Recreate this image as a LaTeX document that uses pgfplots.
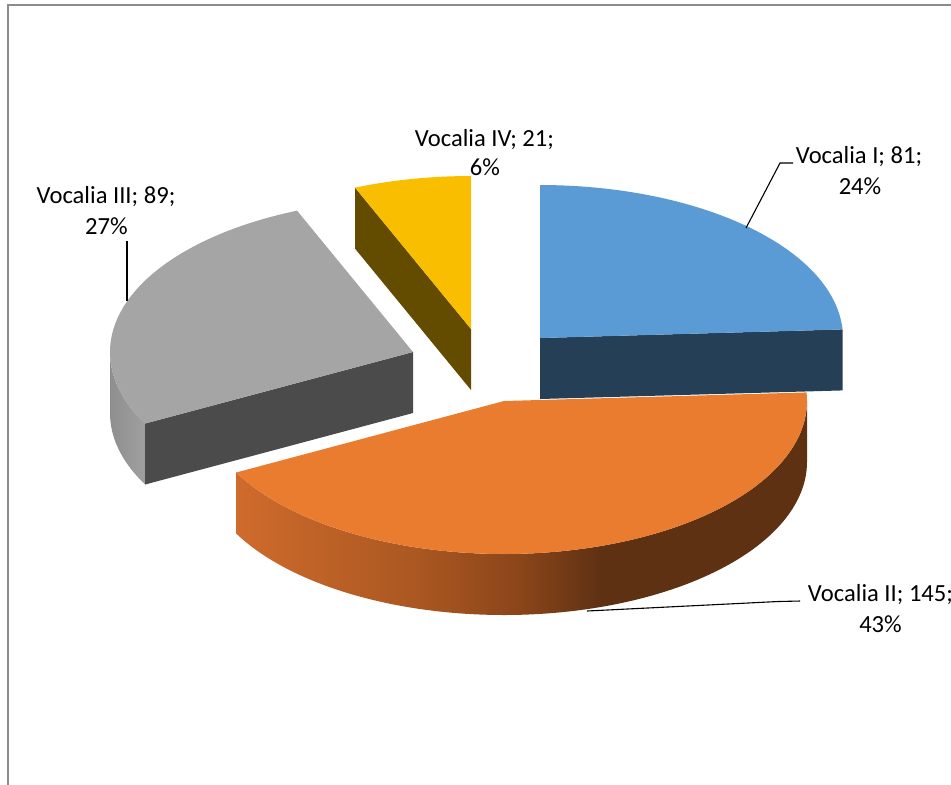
\documentclass[border=0pt]{standalone}
\usepackage{pgfplots}
\pgfplotsset{compat=1.18}
\usepackage{pgfplotstable}
\usepackage{fontspec}
\setmainfont{Carlito}

\definecolor{blueTop}{HTML}{5B9BD5}
\definecolor{blueCut}{HTML}{253F57}
\definecolor{orangeTop}{HTML}{EA7C30}
\definecolor{grayTop}{HTML}{A5A5A5}
\definecolor{grayCut}{HTML}{4B4B4B}
\definecolor{graySideA}{HTML}{A0A0A0}
\definecolor{graySideB}{HTML}{8E8E8E}
\definecolor{yellowTop}{HTML}{FABE00}
\definecolor{yellowCut}{HTML}{634C00}
\definecolor{oA}{HTML}{CF6B2C}
\definecolor{oB}{HTML}{AA5721}
\definecolor{oC}{HTML}{8A4519}
\definecolor{oD}{HTML}{5E3113}
\definecolor{frameGray}{HTML}{8C8C8C}

\pgfdeclarehorizontalshading{orangeside}{100bp}{color(0bp)=(oA); color(25bp)=(oA); color(41bp)=(oB); color(50bp)=(oC); color(57bp)=(oD); color(100bp)=(oD)}

% data
\pgfplotstableread{
name value
I 81
II 145
III 89
IV 21
}\pietable
\pgfplotstablegetelem{0}{value}\of\pietable \let\vA\pgfplotsretval
\pgfplotstablegetelem{1}{value}\of\pietable \let\vB\pgfplotsretval
\pgfplotstablegetelem{2}{value}\of\pietable \let\vC\pgfplotsretval
\pgfplotstablegetelem{3}{value}\of\pietable \let\vD\pgfplotsretval
\pgfmathsetmacro\tot{\vA+\vB+\vC+\vD}
\pgfmathsetmacro\aA{0}
\pgfmathsetmacro\aB{\vA/\tot*360}
\pgfmathsetmacro\aC{(\vA+\vB)/\tot*360}
\pgfmathsetmacro\aD{(\vA+\vB+\vC)/\tot*360}
\def\aE{360}

% geometry (pixel units)
\def\rx{303}
\def\ry{153}
\def\dep{61}

\newcommand\topface[5]{%
  \addplot[fill=#5, draw=none, samples at={0,1,...,101}, variable=\s]
    ({#1+(\s>0.5)*\rx*sin(#3+(#4-#3)*(\s-1)/100)},
     {#2-(\s>0.5)*\ry*cos(#3+(#4-#3)*(\s-1)/100)});}
\newcommand\sideface[5]{%
  \addplot[#5, draw=none, samples at={0,1,...,201}, variable=\s]
    ({#1+\rx*sin(#3+(#4-#3)*fr(\s))},
     {#2-\ry*cos(#3+(#4-#3)*fr(\s))+(\s>100.5)*\dep});}
\newcommand\cutface[4]{%
  \addplot[fill=#4, draw=none, samples at={0,1,2,3}, variable=\s]
    ({#1+(\s>0.5)*(\s<2.5)*\rx*sin(#3)},
     {#2-(\s>0.5)*(\s<2.5)*\ry*cos(#3)+(\s>1.5)*\dep});}

\newcommand\lbl{\fontsize{12.3}{15}\selectfont}

\begin{document}
\begin{tikzpicture}[declare function={fr(\s)=(\s<100.5)*(\s/100)+(\s>100.5)*((201-\s)/100);}]
\begin{axis}[
  x=0.5pt, y=0.5pt,
  xmin=0, xmax=951, ymin=0, ymax=784,
  y dir=reverse,
  hide axis, clip=false,
]
% frame
\addplot[draw=frameGray, line width=1pt] coordinates {(8,790) (8,5) (960,5)};

% Vocalia IV (yellow)
\cutface{471}{329}{\aD}{yellowCut}
\topface{471}{329}{\aD}{\aE}{yellowTop}

% Vocalia I (blue)
\cutface{540}{338}{\aB}{blueCut}
\topface{540}{338}{\aA}{\aB}{blueTop}

% Vocalia III (gray)
\sideface{413}{352}{\aC}{270}{left color=graySideB, right color=graySideA}
\cutface{413}{352}{\aC}{grayCut}
\topface{413}{352}{\aC}{\aD}{grayTop}

% Vocalia II (orange)
\sideface{504}{401}{90}{\aC}{shade, shading=orangeside}
\topface{504}{401}{\aB}{\aC}{orangeTop}

% leader lines
\addplot[black, line width=0.55pt] coordinates {(793,163) (780,163) (746,228)};
\addplot[black, line width=0.55pt] coordinates {(800,601) (778,601.5) (587,611)};
\addplot[black, line width=1pt] coordinates {(127,241) (127,301)};

% labels
\node[anchor=base, font=\lbl] at (axis cs:859,163) {Vocalia I; 81;};
\node[anchor=base, font=\lbl] at (axis cs:860,194) {24\%};
\node[anchor=base, font=\lbl] at (axis cs:880.5,601) {Vocalia II; 145;};
\node[anchor=base, font=\lbl] at (axis cs:880.5,632) {43\%};
\node[anchor=base, font=\lbl] at (axis cs:106,203) {Vocalia III; 89;};
\node[anchor=base, font=\lbl] at (axis cs:106.5,234) {27\%};
\node[anchor=base, font=\lbl] at (axis cs:484.5,146) {Vocalia IV; 21;};
\node[anchor=base, font=\lbl] at (axis cs:485,175) {6\%};

\coordinate (BL) at (axis cs:0,784);
\coordinate (TR) at (axis cs:951,0);
\end{axis}
\pgfresetboundingbox
\useasboundingbox (BL) rectangle (TR);
\end{tikzpicture}
\end{document}
